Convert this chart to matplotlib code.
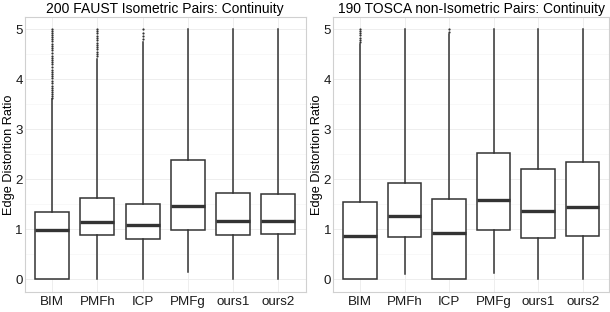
import matplotlib
matplotlib.use('Agg')
import matplotlib.pyplot as plt

plt.rcParams['font.family'] = ['Liberation Sans', 'DejaVu Sans']

cats = ['BIM', 'PMFh', 'ICP', 'PMFg', 'ours1', 'ours2']

# FAUST (isometric) box stats
faust_lo  = [0.0, 0.0, 0.0, 0.15, 0.0, 0.0]
faust_q1  = [0.0, 0.88, 0.81, 0.98, 0.89, 0.90]
faust_med = [0.99, 1.15, 1.09, 1.47, 1.17, 1.17]
faust_q3  = [1.35, 1.63, 1.51, 2.38, 1.72, 1.71]
faust_hi  = [3.60, 4.40, 4.75, 5.0, 5.0, 5.0]
faust_fliers = [
    [3.62, 3.66, 3.70, 3.74, 3.78, 3.83, 3.87, 3.92, 3.96, 4.02, 4.06, 4.10,
     4.15, 4.19, 4.24, 4.30, 4.34, 4.38, 4.43, 4.47, 4.52, 4.58, 4.62, 4.66,
     4.71, 4.76, 4.80, 4.85, 4.89, 4.93, 4.97, 5.0],
    [4.46, 4.50, 4.55, 4.60, 4.64, 4.69, 4.73, 4.78, 4.83, 4.87, 4.92, 4.96, 5.0],
    [4.80, 4.86, 4.93, 5.0],
    [], [], [],
]

# TOSCA (non-isometric) box stats
tosca_lo  = [0.0, 0.11, 0.0, 0.13, 0.0, 0.0]
tosca_q1  = [0.0, 0.84, 0.0, 0.98, 0.83, 0.87]
tosca_med = [0.87, 1.27, 0.93, 1.59, 1.37, 1.45]
tosca_q3  = [1.55, 1.93, 1.60, 2.52, 2.21, 2.35]
tosca_hi  = [4.70, 5.0, 4.90, 5.0, 5.0, 5.0]
tosca_fliers = [
    [4.74, 4.78, 4.83, 4.88, 4.92, 4.97, 5.0],
    [],
    [4.95, 5.0],
    [], [], [],
]

titles = ['200 FAUST Isometric Pairs: Continuity',
          '190 TOSCA non-Isometric Pairs: Continuity']

panels = [
    (faust_lo, faust_q1, faust_med, faust_q3, faust_hi, faust_fliers),
    (tosca_lo, tosca_q1, tosca_med, tosca_q3, tosca_hi, tosca_fliers),
]

fig = plt.figure(figsize=(6.1, 3.12), dpi=100)
ax1 = fig.add_axes([0.041, 0.065, 0.460, 0.8805])
ax2 = fig.add_axes([0.5464, 0.065, 0.4526, 0.8805])

line_col = '#333333'
for ax, title, (lo, q1, med, q3, hi, fl) in zip([ax1, ax2], titles, panels):
    stats = []
    for i in range(len(cats)):
        stats.append(dict(whislo=lo[i], q1=q1[i], med=med[i], q3=q3[i],
                          whishi=hi[i], fliers=fl[i], label=cats[i]))
    ax.bxp(stats, positions=range(1, len(cats) + 1), widths=0.75,
           showcaps=False, patch_artist=True,
           boxprops=dict(facecolor='white', edgecolor=line_col, linewidth=1.1),
           whiskerprops=dict(color=line_col, linewidth=1.1),
           medianprops=dict(color=line_col, linewidth=2.4, solid_capstyle='butt'),
           flierprops=dict(marker='o', markersize=1.6, markerfacecolor=line_col,
                           markeredgewidth=0, linestyle='none'))

    ax.set_xlim(0.4, 6.6)
    ax.set_ylim(-0.25, 5.25)
    ax.set_yticks([0, 1, 2, 3, 4, 5])
    ax.set_yticks([0.5, 1.5, 2.5, 3.5, 4.5], minor=True)
    ax.set_xticks(range(1, len(cats) + 1))
    ax.set_xticklabels(cats)
    ax.grid(which='major', color='#ebebeb', linewidth=0.6)
    ax.grid(which='minor', axis='y', color='#f5f5f5', linewidth=0.5)
    ax.set_axisbelow(True)
    for s in ax.spines.values():
        s.set_color('#d0d0d0')
        s.set_linewidth(0.8)
    ax.tick_params(which='both', length=0, labelsize=9.6, colors='#1a1a1a')
    ax.tick_params(axis='x', pad=3)
    ax.tick_params(axis='y', pad=1.5)
    ax.set_ylabel('Edge Distortion Ratio', fontsize=9.2, labelpad=0.5)
    ax.set_title(title, fontsize=10, pad=3)

fig.savefig('out.png', dpi=100)
